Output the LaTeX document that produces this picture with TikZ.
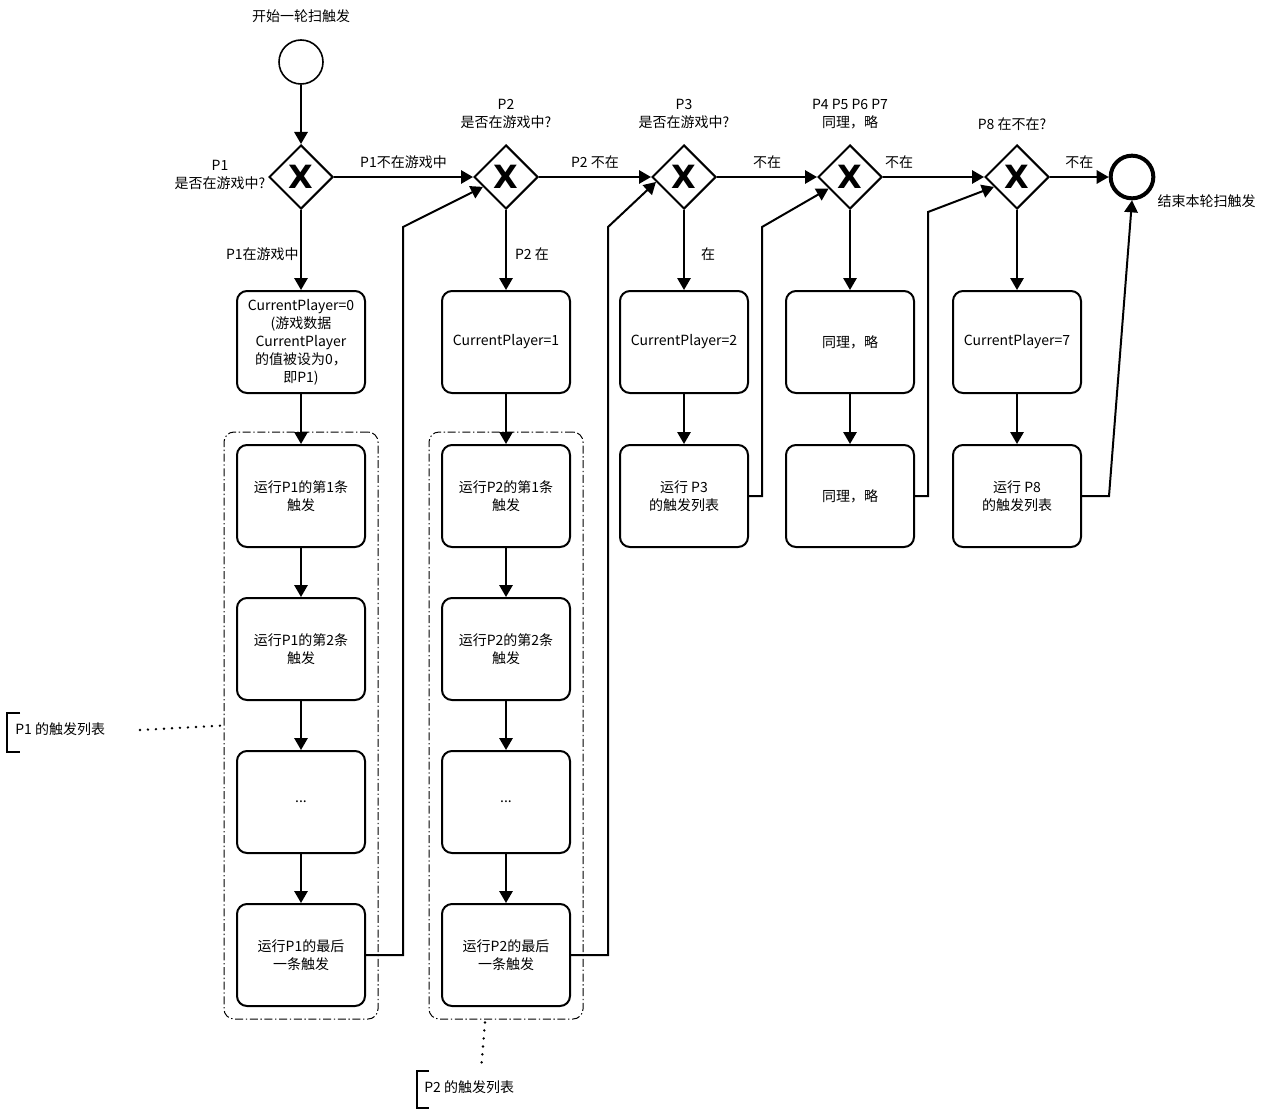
\documentclass[tikz,border=0pt]{standalone}
\usepackage{fontspec}
\setmainfont{Noto Sans CJK SC}
\newfontfamily\gatefont{DejaVu Sans}
\usetikzlibrary{arrows.meta}
\usetikzlibrary{shapes.geometric}
\usetikzlibrary{positioning}
\usetikzlibrary{calc}
\usetikzlibrary{fit}
\tikzset{task/.style={draw,rounded corners=7.5pt,line width=1.5pt,minimum width=96pt,minimum height=76.5pt,align=center,inner sep=2pt}}
\tikzset{gate/.style={draw,diamond,aspect=1,line width=1.5pt,minimum size=48pt,inner sep=0pt,font={\gatefont\fontsize{24pt}{24pt}\bfseries\selectfont}}}
\tikzset{startev/.style={draw,circle,line width=1.2pt,minimum size=33pt,inner sep=0pt}}
\tikzset{endev/.style={draw,circle,line width=3pt,minimum size=32pt,inner sep=0pt}}
\tikzset{flow/.style={line width=1.5pt,-{Triangle[length=9pt,width=10pt]}}}
\tikzset{group/.style={draw,rounded corners=7.5pt,line width=0.75pt,dash pattern=on 6pt off 2pt on 1pt off 2pt,inner sep=9pt}}
\tikzset{annot/.style={line width=2pt,dash pattern=on 0pt off 6pt,line cap=round}}
\tikzset{brk/.style={line width=1.5pt}}
\tikzset{flowlabel/.style={above=2pt}}

\begin{document}
\begin{tikzpicture}[x=0.75pt,y=-0.75pt,font=\fontsize{10.5pt}{13.5pt}\selectfont]
  \useasboundingbox (0,0) rectangle (1266,1117);

  % Events
  \node[startev] (start) at (301,62) {};
  \node (starttxt) at (301,16) {开始一轮扫触发};
  \node[endev] (end) at (1132,177) {};
  \node[anchor=west] (endtxt) at (1153,201) {结束本轮扫触发};

  % Gateways
  \foreach \n/\x in {1/301,2/506,3/684,4/850,5/1017}
    \node[gate] (g\n) at (\x,177) {X};
  \node[align=center] (q1) at (220,175) {P1\\是否在游戏中?};
  \node[align=center] (q2) at (506,114) {P2\\是否在游戏中?};
  \node[align=center] (q3) at (684,114) {P3\\是否在游戏中?};
  \node[align=center] (q4) at (850,114) {P4 P5 P6 P7\\同理，略};
  \node (q5) at (1012,124) {P8 在不在?};

  % Tasks
  \node[task] (p1set) at (301,342) {CurrentPlayer=0\\(游戏数据\\CurrentPlayer\\的值被设为0，\\即P1)};
  \node[task] (p2set) at (506,342) {CurrentPlayer=1};
  \foreach \p/\x in {1/301,2/506}
  {
    \node[task] (p\p t1) at (\x,496) {运行P\p 的第1条\\触发};
    \node[task] (p\p t2) at (\x,649) {运行P\p 的第2条\\触发};
    \node[task] (p\p dots) at (\x,802) {...};
    \node[task] (p\p last) at (\x,955) {运行P\p 的最后\\一条触发};
  }
  \node[task] (p3set) at (684,342) {CurrentPlayer=2};
  \node[task] (p3run) at (684,496) {运行 P3\\的触发列表};
  \node[task] (p4set) at (850,342) {同理，略};
  \node[task] (p4run) at (850,496) {同理，略};
  \node[task] (p8set) at (1017,342) {CurrentPlayer=7};
  \node[task] (p8run) at (1017,496) {运行 P8\\的触发列表};

  % Groups
  \node[group,fit=(p1t1)(p1last)] (grp1) {};
  \node[group,fit=(p2t1)(p2last)] (grp2) {};

  % Flows
  \foreach \a/\b in {start/g1,p1set/p1t1,p1t1/p1t2,p1t2/p1dots,p1dots/p1last,
      p2set/p2t1,p2t1/p2t2,p2t2/p2dots,p2dots/p2last,p3set/p3run,g4/p4set,p4set/p4run,g5/p8set,p8set/p8run}
    \draw[flow] (\a) -- (\b);
  \draw[flow] (g1) -- node[pos=0.55,left,inner sep=1pt] {P1在游戏中} (p1set);
  \draw[flow] (g2) -- node[pos=0.55,right,inner sep=6pt] {P2 在} (p2set);
  \draw[flow] (g3) -- node[pos=0.55,right,inner sep=12pt] {在} (p3set);
  \draw[flow] (g1) -- node[flowlabel] {P1不在游戏中} (g2);
  \draw[flow] (g2) -- node[flowlabel] {P2 不在} (g3);
  \draw[flow] (g3) -- node[flowlabel] {不在} (g4);
  \draw[flow] (g4) -- node[flowlabel,pos=0.16] {不在} (g5);
  \draw[flow] (g5) -- node[flowlabel] {不在} (end);

  % Back to the next gateway
  \draw[flow] (p1last.east) -| (403,227) -- ($(g2.west)!0.3!(g2.south)$);
  \draw[flow] (p2last.east) -| (608,227) -- ($(g3.west)!0.15!(g3.south)$);
  \draw[flow] (p3run.east) -| (762,227) -- ($(g4.west)!0.35!(g4.south)$);
  \draw[flow] (p4run.east) -| (928,212) -- ($(g5.west)!0.3!(g5.south)$);
  \draw[flow] (p8run.east) -- ++(27,0) -- (end.south);

  % Annotations
  \node[anchor=west,inner sep=0pt] (note1) at (15,729) {P1 的触发列表};
  \draw[brk] ([shift={(5,-16)}]note1.west) -- ++(-13,0) -- ++(0,39) -- ++(13,0);
  \draw[annot] ([shift={(125,1)}]note1.west) -- (grp1.west);
  \node[anchor=west,inner sep=0pt] (note2) at (424,1087) {P2 的触发列表};
  \draw[brk] ([shift={(5,-16)}]note2.west) -- ++(-12,0) -- ++(0,37) -- ++(12,0);
  \draw[annot] ([shift={(-21,3)}]grp2.south) -- ([shift={(57,-17)}]note2.west);
\end{tikzpicture}
\end{document}
